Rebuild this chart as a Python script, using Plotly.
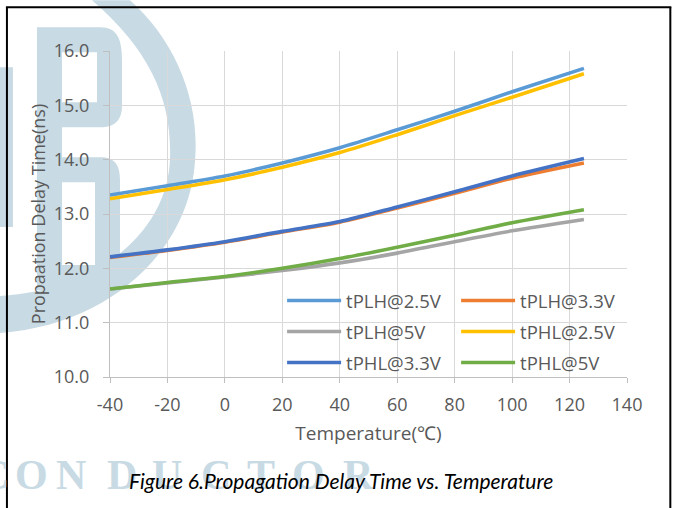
import plotly.graph_objects as go

# ---------------- data ----------------
temperature = [-40, -20, 0, 20, 40, 60, 80, 100, 125]
tPLH_25 = [13.35, 13.52, 13.70, 13.94, 14.22, 14.55, 14.89, 15.25, 15.68]
tPLH_33 = [12.20, 12.33, 12.48, 12.67, 12.85, 13.11, 13.38, 13.66, 13.94]
tPLH_5 = [11.62, 11.73, 11.84, 11.96, 12.10, 12.28, 12.49, 12.69, 12.90]
tPHL_25 = [13.28, 13.45, 13.63, 13.86, 14.13, 14.46, 14.81, 15.15, 15.58]
tPHL_33 = [12.21, 12.34, 12.49, 12.68, 12.86, 13.13, 13.41, 13.70, 14.02]
tPHL_5 = [11.62, 11.74, 11.85, 12.00, 12.18, 12.39, 12.61, 12.84, 13.08]

series_names = ["tPLH@2.5V", "tPLH@3.3V", "tPLH@5V", "tPHL@2.5V", "tPHL@3.3V", "tPHL@5V"]
series_values = [tPLH_25, tPLH_33, tPLH_5, tPHL_25, tPHL_33, tPHL_5]
series_colors = ["#5B9BD5", "#ED7D31", "#A5A5A5", "#FFC000", "#4472C4", "#70AD47"]
series_legend = ["legend", "legend", "legend2", "legend2", "legend3", "legend3"]

x_tickvals = [-40, -20, 0, 20, 40, 60, 80, 100, 120, 140]
x_ticktext = ["-40", "-20", "0", "20", "40", "60", "80", "100", "120", "140"]
y_tickvals = [10, 11, 12, 13, 14, 15, 16]
y_ticktext = ["10.0", "11.0", "12.0", "13.0", "14.0", "15.0", "16.0"]

x_title = "Temperature(℃)"
y_title = "Propaation Delay Time(ns)"
caption = "Figure 6.Propagation Delay Time vs. Temperature"
watermark_letters = ["C", "O", "N", "D", "U", "C", "T", "O", "R"]

# ---------------- layout geometry ----------------
W, H = 673, 508
ML, MR, MT, MB = 110, 46.3, 50.7, 130.9
PW = W - ML - MR
PH = H - MT - MB
FONT = "Open Sans"
TXT = "#595959"
GRID = "#D9D9D9"
WM = "#C8DAE4"


def px(x):
    return (x - ML) / PW


def py(y):
    return (H - MB - y) / PH


def P(x, y):
    return f"{px(x):.5f},{py(y):.5f}"


fig = go.Figure()
for name, vals, col, lg in zip(series_names, series_values, series_colors, series_legend):
    fig.add_trace(go.Scatter(
        x=temperature, y=vals, name=name, mode="lines",
        line=dict(color=col, width=3.6, shape="spline", smoothing=0.8),
        legend=lg,
    ))

shapes = []
# watermark pieces (decorative background logo)
shapes.append(dict(type="rect", xref="paper", yref="paper", layer="below",
                   x0=px(0), x1=px(13), y0=py(227), y1=py(67),
                   fillcolor=WM, line=dict(width=0)))
arc = (f"M{P(130,0)} C{P(175,40)} {P(200,100)} {P(195,160)} "
       f"C{P(190,250)} {P(110,325)} {P(0,333)} L{P(0,296)} "
       f"C{P(100,290)} {P(168,230)} {P(170,158)} C{P(172,100)} {P(150,50)} {P(92,0)} Z")
shapes.append(dict(type="path", xref="paper", yref="paper", layer="below", path=arc,
                   fillcolor=WM, line=dict(width=0)))
bshape = (f"M{P(37,27)} L{P(100,27)} C{P(118,27)} {P(122,40)} {P(122,60)} L{P(122,105)} "
          f"C{P(122,120)} {P(115,127)} {P(100,127)} L{P(62,127)} L{P(62,157)} L{P(100,157)} "
          f"C{P(115,157)} {P(120,165)} {P(120,180)} L{P(120,270)} C{P(120,285)} {P(112,290)} {P(100,290)} "
          f"L{P(37,290)} Z "
          f"M{P(62,52)} L{P(97,52)} L{P(97,102)} L{P(62,102)} Z "
          f"M{P(62,182)} L{P(95,182)} L{P(95,265)} L{P(62,265)} Z")
shapes.append(dict(type="path", xref="paper", yref="paper", layer="below", path=bshape,
                   fillcolor=WM, line=dict(width=0), fillrule="evenodd"))
# outer frame
for (x0, y0, x1, y1) in [(6, 7, 671, 7), (7, 7, 7, 510), (670, 7, 670, 510)]:
    shapes.append(dict(type="line", xref="paper", yref="paper", layer="above",
                       x0=px(x0), y0=py(y0), x1=px(x1), y1=py(y1),
                       line=dict(color="black", width=2)))

annotations = []
letter_x = [-6, 31.5, 71, 121.5, 166.5, 216, 261, 308.5, 358.5]
for lx, ch in zip(letter_x, watermark_letters):
    annotations.append(dict(text=ch, xref="paper", yref="paper", x=px(lx), y=py(475),
                            xanchor="center", yanchor="middle", showarrow=False,
                            font=dict(family="Liberation Serif", size=42, color=WM,
                                      weight="bold")))
annotations.append(dict(text=caption, xref="paper", yref="paper", x=px(341), y=py(481),
                        xanchor="center", yanchor="middle", showarrow=False,
                        font=dict(family="Lato", size=21, color="black", style="italic")))

legend_common = dict(orientation="h", bgcolor="rgba(0,0,0,0)", borderwidth=0,
                     font=dict(family=FONT, size=18.5, color=TXT), itemwidth=54,
                     entrywidth=105, entrywidthmode="pixels",
                     xref="paper", yref="paper", xanchor="left", yanchor="middle",
                     traceorder="normal", tracegroupgap=0, itemclick=False)

fig.update_layout(
    width=W, height=H,
    margin=dict(l=ML, r=MR, t=MT, b=MB, pad=0, autoexpand=False),
    paper_bgcolor="white", plot_bgcolor="rgba(0,0,0,0)",
    font=dict(family=FONT, color=TXT),
    showlegend=True,
    legend=dict(**legend_common, x=px(282), y=py(301)),
    legend2=dict(**legend_common, x=px(282), y=py(332)),
    legend3=dict(**legend_common, x=px(282), y=py(363)),
    xaxis=dict(range=[-40, 140], tickvals=x_tickvals, ticktext=x_ticktext, showgrid=True,
               gridcolor=GRID, gridwidth=1.3,
               showline=True, linecolor="#BFBFBF", linewidth=1.3, ticks="outside", ticklen=5,
               tickcolor="#BFBFBF", zeroline=False, tickfont=dict(family=FONT, size=18, color=TXT),
               ticklabelstandoff=6,
               title=dict(text=x_title, font=dict(family=FONT, size=19, color=TXT), standoff=11)),
    yaxis=dict(range=[10, 16], tickvals=y_tickvals, ticktext=y_ticktext, showgrid=True,
               gridcolor=GRID, gridwidth=1.3, showline=True, linecolor="#BFBFBF", linewidth=1.3,
               ticks="outside", ticklen=6, tickcolor="#BFBFBF", zeroline=False,
               tickfont=dict(family=FONT, size=18, color=TXT), ticklabelstandoff=10,
               title=dict(text=y_title, font=dict(family=FONT, size=18, color=TXT), standoff=3)),
    shapes=shapes,
    annotations=annotations,
)

fig.write_html("out.html")
